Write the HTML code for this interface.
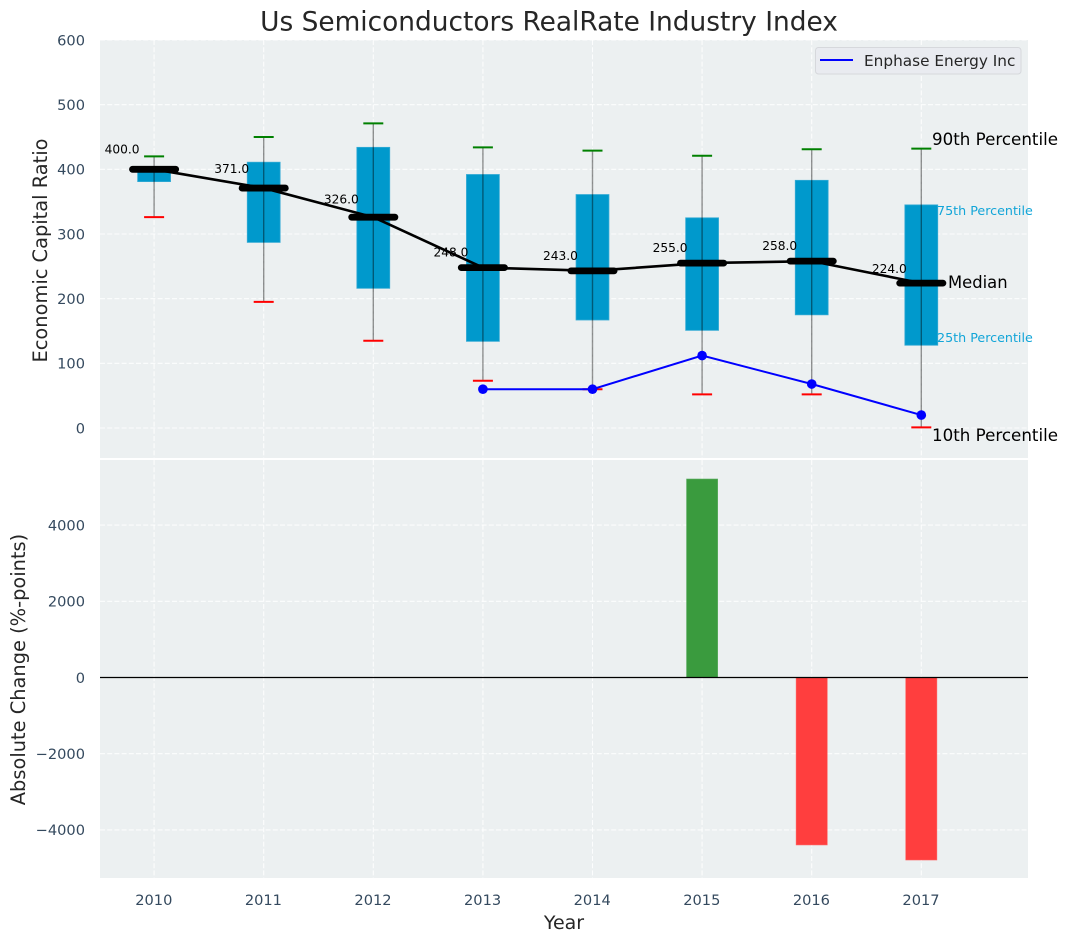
<!DOCTYPE html>
<html>
<head>
<meta charset="utf-8">
<title>Us Semiconductors RealRate Industry Index</title>
<style>
html,body{margin:0;padding:0;background:#fff;width:1067px;height:942px;overflow:hidden}
svg{display:block}
text{font-family:"DejaVu Sans","Liberation Sans",sans-serif}
</style>
</head>
<body>
<svg id="chart" width="1067" height="942" viewBox="0 0 1067 942" xmlns="http://www.w3.org/2000/svg"></svg>
<script>
const years = [2010, 2011, 2012, 2013, 2014, 2015, 2016, 2017];
const p90 = [420, 450, 471, 434, 429, 421, 431, 432];
const p75 = [400, 411, 434, 392, 361, 325, 383, 345];
const medians = [400, 371, 326, 248, 243, 255, 258, 224];
const p25 = [381, 287, 216, 134, 167, 151, 175, 128];
const p10 = [326, 195, 135, 73, 60, 52, 52, 1];
const companyYears = [2013, 2014, 2015, 2016, 2017];
const companyValues = [60, 60, 112, 68, 20];
const changeYears = [2015, 2016, 2017];
const changeValues = [5210, -4395, -4790];
const topTicks = [0, 100, 200, 300, 400, 500, 600];
const bottomTicks = [-4000, -2000, 0, 2000, 4000];

const NS = 'http://www.w3.org/2000/svg';
const svg = document.getElementById('chart');
const plotLeft = 100, plotRight = 1028;
const topPanel = {top: 40, bottom: 458};
const botPanel = {top: 460, bottom: 878};

function xScale(year) { return 154.1 + (year - 2010) * 109.6; }
function yTop(v) { return 428 - v * 0.6467; }
function yBot(v) { return 677.5 - v * 0.0381; }

function make(tag, attrs, parent, name) {
  const el = document.createElementNS(NS, tag);
  for (const k in attrs) el.setAttribute(k, attrs[k]);
  
  
  (parent || svg).appendChild(el);
  return el;
}
function label(str, attrs, parent, name) {
  const el = make('text', attrs, parent, name);
  el.textContent = str;
  return el;
}
function fmt(v) { return String(v).replace('-', '\u2212'); }

/* panels */
make('rect', {x: plotLeft, y: topPanel.top, width: plotRight - plotLeft, height: topPanel.bottom - topPanel.top, fill: '#ecf0f1'}, svg, 'top-panel-background');
make('rect', {x: plotLeft, y: botPanel.top, width: plotRight - plotLeft, height: botPanel.bottom - botPanel.top, fill: '#ecf0f1'}, svg, 'bottom-panel-background');

/* grid */
const gridStyle = {stroke: '#ffffff', 'stroke-width': 1.1, 'stroke-dasharray': '5 2.2', 'stroke-opacity': 0.85};
const grid = make('g', gridStyle, svg, 'grid-lines');
years.forEach(function (y) {
  const x = xScale(y);
  make('line', {x1: x, x2: x, y1: topPanel.top, y2: topPanel.bottom}, grid, 'top-vertical-gridline');
  make('line', {x1: x, x2: x, y1: botPanel.top, y2: botPanel.bottom}, grid, 'bottom-vertical-gridline');
});
topTicks.forEach(function (t) {
  make('line', {x1: plotLeft, x2: plotRight, y1: yTop(t), y2: yTop(t)}, grid, 'top-horizontal-gridline');
});
bottomTicks.forEach(function (t) {
  make('line', {x1: plotLeft, x2: plotRight, y1: yBot(t), y2: yBot(t)}, grid, 'bottom-horizontal-gridline');
});

/* boxes */
const boxHalf = 0.15;
years.forEach(function (y, i) {
  const x0 = xScale(y - boxHalf), x1 = xScale(y + boxHalf);
  make('rect', {x: x0, y: yTop(p75[i]), width: x1 - x0, height: yTop(p25[i]) - yTop(p75[i]), fill: '#0099cc', stroke: '#33aad4', 'stroke-width': 0.8}, svg, 'iqr-box-' + y);
});
/* whiskers */
years.forEach(function (y, i) {
  const x = xScale(y);
  make('line', {x1: x, x2: x, y1: yTop(p90[i]), y2: yTop(p10[i]), stroke: '#000000', 'stroke-opacity': 0.42, 'stroke-width': 1.4}, svg, 'whisker-' + y);
  make('line', {x1: x - 10, x2: x + 10, y1: yTop(p90[i]), y2: yTop(p90[i]), stroke: '#008000', 'stroke-width': 2}, svg, 'p90-cap-' + y);
  make('line', {x1: x - 10, x2: x + 10, y1: yTop(p10[i]), y2: yTop(p10[i]), stroke: '#ff0000', 'stroke-width': 2}, svg, 'p10-cap-' + y);
});
/* median line */
make('polyline', {
  points: years.map(function (y, i) { return xScale(y) + ',' + yTop(medians[i]); }).join(' '),
  fill: 'none', stroke: '#000000', 'stroke-width': 2.6
}, svg, 'median-line');
years.forEach(function (y, i) {
  const x = xScale(y);
  make('line', {x1: x - 21.6, x2: x + 21.6, y1: yTop(medians[i]), y2: yTop(medians[i]), stroke: '#000000', 'stroke-width': 6.8, 'stroke-linecap': 'round'}, svg, 'median-marker-' + y);
  label(medians[i].toFixed(1), {x: x - 32, y: yTop(medians[i] * 1.05) - 3, 'text-anchor': 'middle', 'font-size': 12.2, fill: '#000000'}, svg, 'median-value-' + y);
});
/* company line */
make('polyline', {
  points: companyYears.map(function (y, i) { return xScale(y) + ',' + yTop(companyValues[i]); }).join(' '),
  fill: 'none', stroke: '#0000ff', 'stroke-width': 2
}, svg, 'enphase-line');
companyYears.forEach(function (y, i) {
  make('circle', {cx: xScale(y), cy: yTop(companyValues[i]), r: 4.8, fill: '#0000ff'}, svg, 'enphase-point-' + y);
});

/* percentile annotations */
label('90th Percentile', {x: 932, y: 145, 'font-size': 16.7, fill: '#000000'}, svg, 'label-90th-percentile');
label('75th Percentile', {x: 937, y: 215, 'font-size': 12.7, fill: '#12a5d8'}, svg, 'label-75th-percentile');
label('Median', {x: 948, y: 288, 'font-size': 16.4, fill: '#000000'}, svg, 'label-median');
label('25th Percentile', {x: 937, y: 342, 'font-size': 12.7, fill: '#12a5d8'}, svg, 'label-25th-percentile');
label('10th Percentile', {x: 932, y: 441, 'font-size': 16.7, fill: '#000000'}, svg, 'label-10th-percentile');

/* bars */
const barHalf = 0.142;
changeYears.forEach(function (y, i) {
  const v = changeValues[i];
  const x0 = xScale(y - barHalf), x1 = xScale(y + barHalf);
  const a = yBot(Math.max(v, 0)), b = yBot(Math.min(v, 0));
  make('rect', {x: x0, y: a, width: x1 - x0, height: b - a, fill: v >= 0 ? '#3a9b3e' : '#ff3e3e', stroke: v >= 0 ? '#5fae63' : '#ff6060', 'stroke-width': 0.6}, svg, 'change-bar-' + y);
});
make('line', {x1: plotLeft, x2: plotRight, y1: yBot(0), y2: yBot(0), stroke: '#000000', 'stroke-width': 1.3}, svg, 'zero-line');

/* tick labels */
const tickColor = '#34495e';
topTicks.forEach(function (t) {
  label(fmt(t), {x: 85, y: yTop(t) + 5.3, 'text-anchor': 'end', 'font-size': 14.6, fill: tickColor}, svg, 'top-y-tick-label');
});
bottomTicks.forEach(function (t) {
  label(fmt(t), {x: 85, y: yBot(t) + 5.3, 'text-anchor': 'end', 'font-size': 14.6, fill: tickColor}, svg, 'bottom-y-tick-label');
});
years.forEach(function (y) {
  label(String(y), {x: xScale(y) - 0.3, y: 905, 'text-anchor': 'middle', 'font-size': 14.6, fill: tickColor}, svg, 'x-tick-label');
});

/* titles */
label('Us Semiconductors RealRate Industry Index', {x: 549, y: 30.5, 'text-anchor': 'middle', 'font-size': 26.4, fill: '#262626'}, svg, 'chart-title');
label('Year', {x: 564, y: 929, 'text-anchor': 'middle', 'font-size': 19, fill: '#262626'}, svg, 'x-axis-title');
label('Economic Capital Ratio', {transform: 'translate(47,250.5) rotate(-90)', 'text-anchor': 'middle', 'font-size': 19.4, fill: '#262626'}, svg, 'top-y-axis-title');
label('Absolute Change (%-points)', {transform: 'translate(25,669.5) rotate(-90)', 'text-anchor': 'middle', 'font-size': 19.4, fill: '#262626'}, svg, 'bottom-y-axis-title');

/* legend */
const legend = make('g', {}, svg, 'legend');
make('rect', {x: 815.5, y: 47.5, width: 205.5, height: 26.5, rx: 3, fill: '#e9ebf0', stroke: '#d6d8dc', 'stroke-width': 1}, legend, 'legend-frame');
make('line', {x1: 820, x2: 853, y1: 60, y2: 60, stroke: '#0000ff', 'stroke-width': 2}, legend, 'legend-line-sample');
label('Enphase Energy Inc', {x: 864, y: 66, 'font-size': 15.3, fill: '#262626'}, legend, 'legend-label');
</script>
</body>
</html>
